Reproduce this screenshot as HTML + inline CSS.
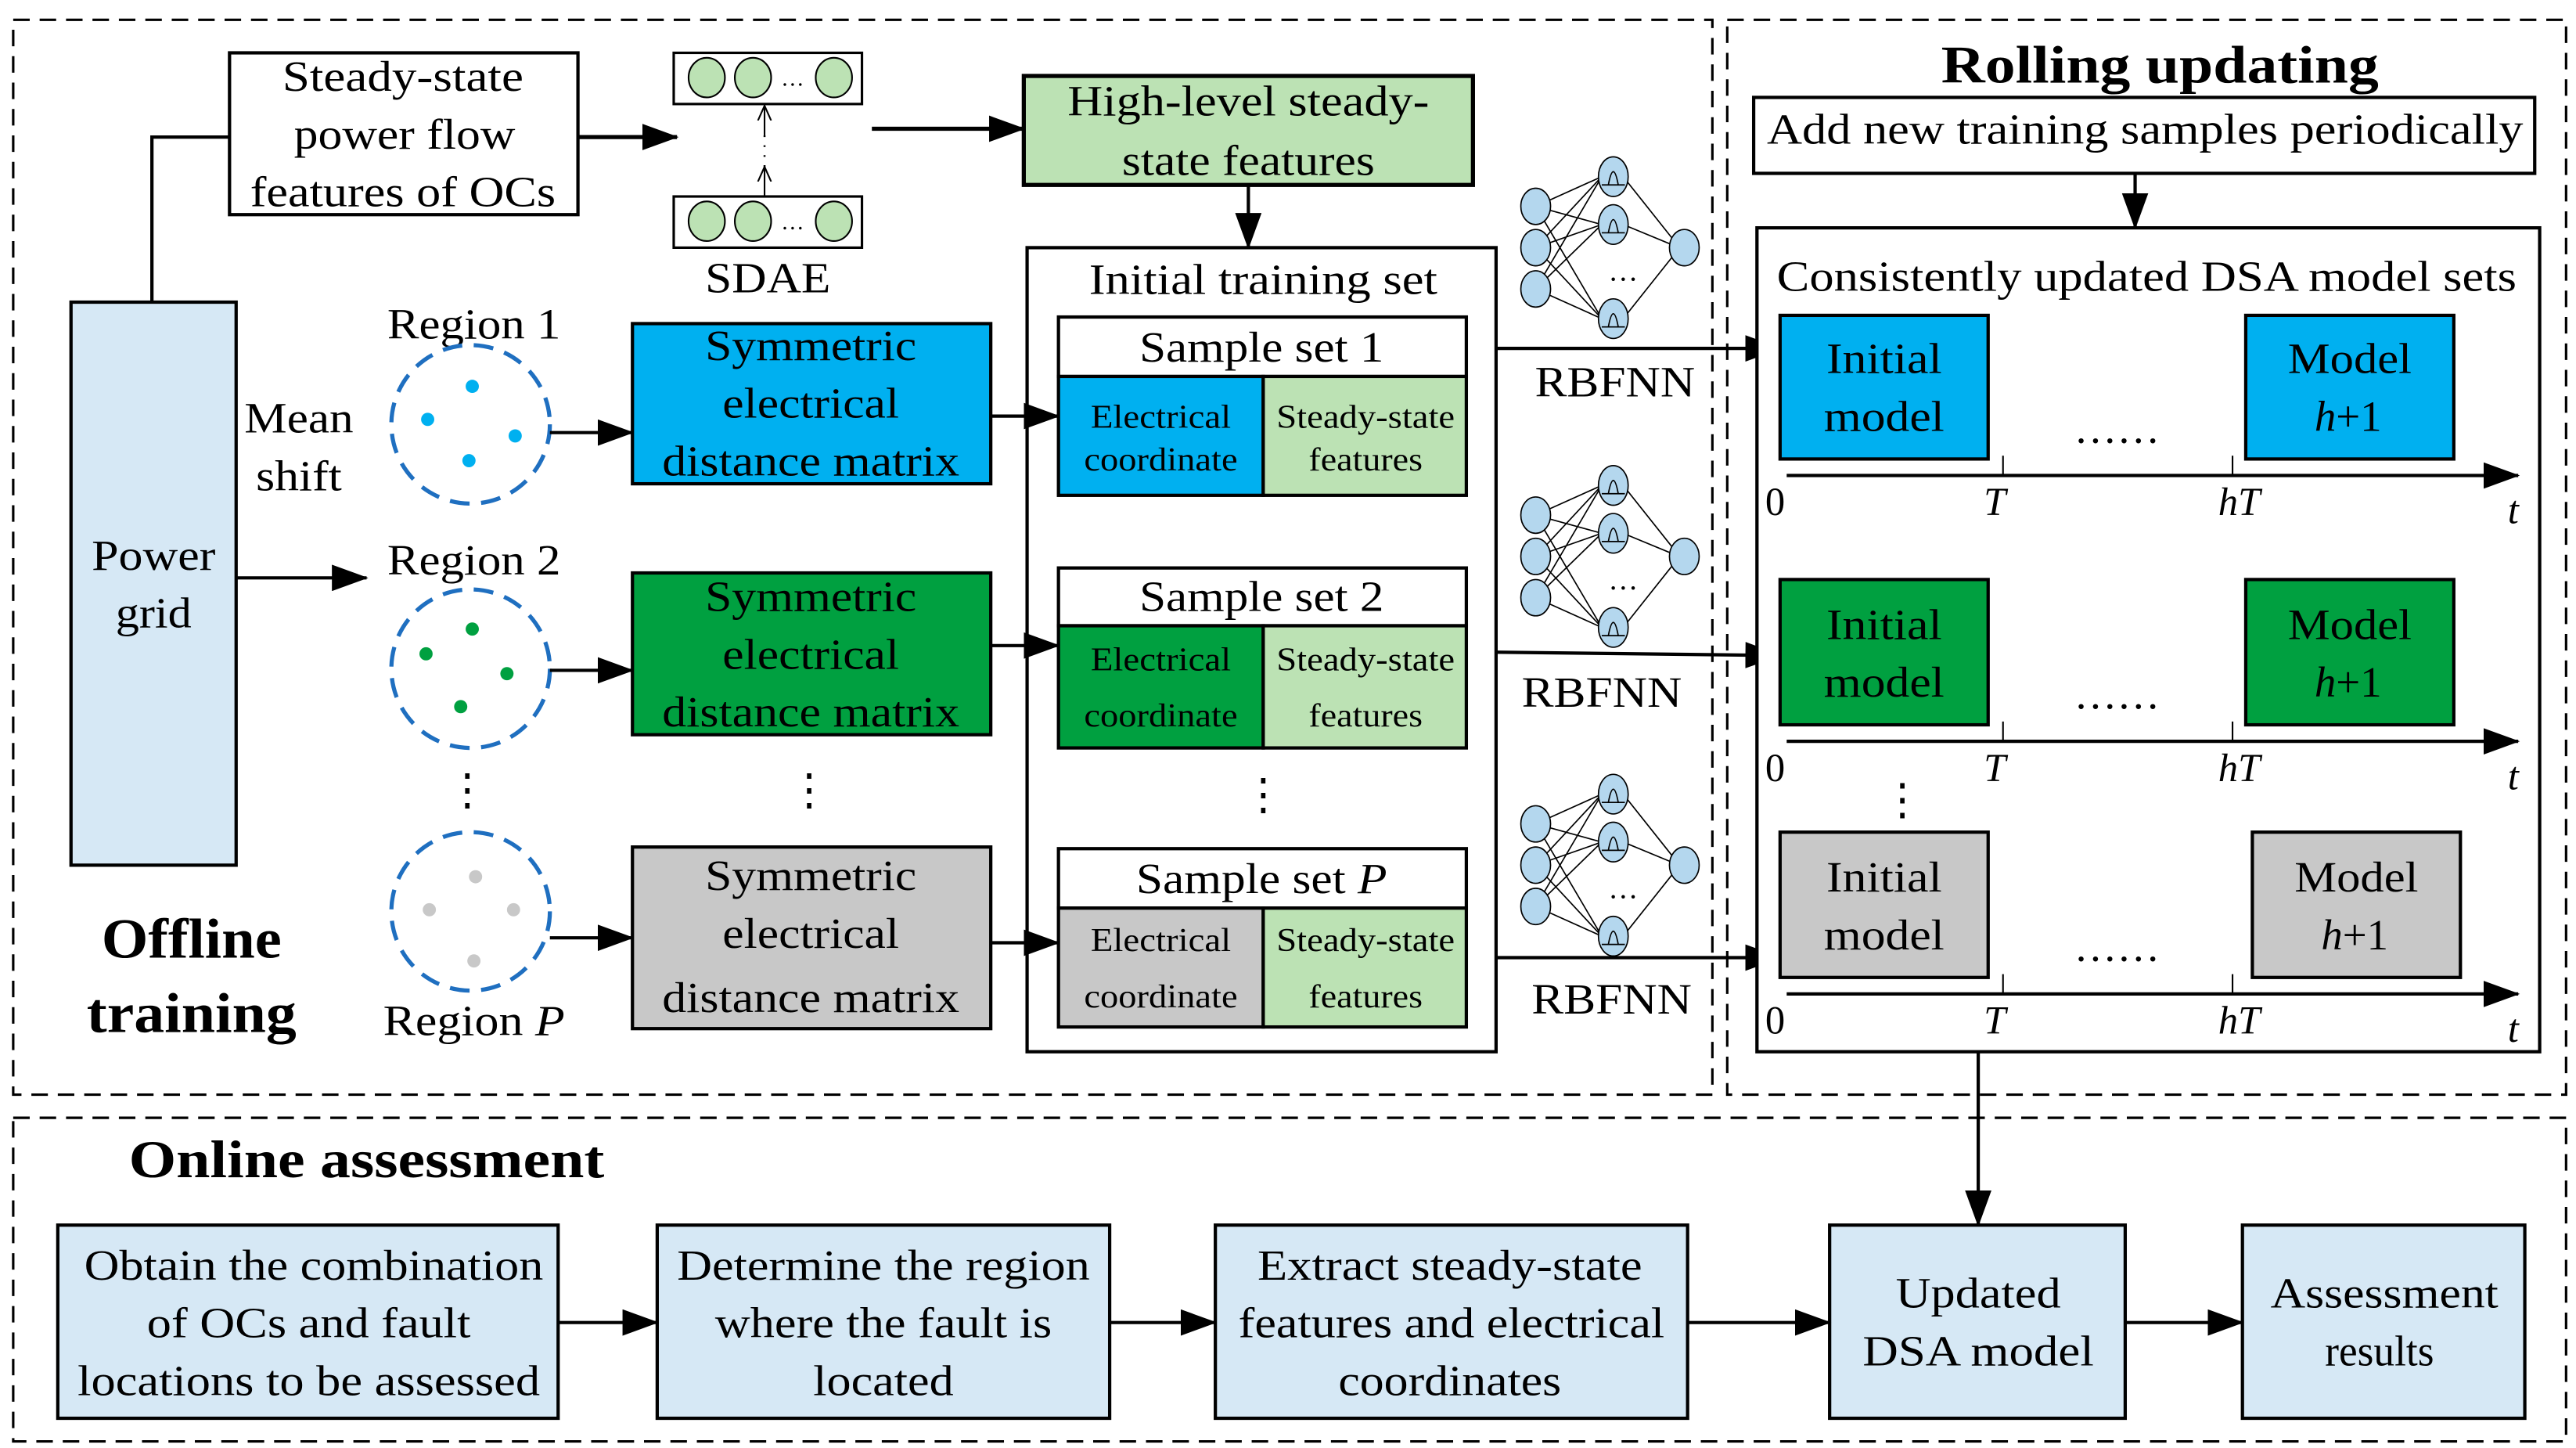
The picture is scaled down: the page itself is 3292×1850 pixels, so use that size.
<!DOCTYPE html>
<html><head><meta charset="utf-8"><style>html,body{margin:0;padding:0;background:#fff}svg{display:block}</style></head>
<body>
<svg width="3292" height="1850" viewBox="0 0 1560 877" preserveAspectRatio="none" xmlns="http://www.w3.org/2000/svg" font-family="'Liberation Serif', serif" font-size="26" text-anchor="middle">
<defs>
<marker id="a" markerUnits="userSpaceOnUse" markerWidth="22" markerHeight="16" refX="21" refY="8" orient="auto"><path d="M0,0 L22,8 L0,16 Z" fill="#000"/></marker>
<marker id="s" markerUnits="userSpaceOnUse" markerWidth="10" markerHeight="10" refX="9" refY="5" orient="auto"><path d="M0,1 L9,5 L0,9" fill="none" stroke="#000" stroke-width="1"/></marker>
<g id="net">
 <g stroke="#000" stroke-width="0.8" fill="none">
  <path d="M930,125 L970,107 M930,125 L970,136 M930,125 L970,193 M930,150 L970,107 M930,150 L970,136 M930,150 L970,193 M930,175 L970,107 M930,175 L970,136 M930,175 L970,193 M983,107 L1014,146 M983,136 L1012,148 M983,193 L1014,154"/>
 </g>
 <g fill="#b4d7ee" stroke="#000" stroke-width="0.8">
  <ellipse cx="930" cy="125" rx="9" ry="11"/><ellipse cx="930" cy="150" rx="9" ry="11"/><ellipse cx="930" cy="175" rx="9" ry="11"/>
  <ellipse cx="977" cy="107" rx="9" ry="12"/><ellipse cx="977" cy="136" rx="9" ry="12"/><ellipse cx="977" cy="193" rx="9" ry="12"/>
  <ellipse cx="1020" cy="150" rx="9" ry="11"/>
 </g>
 <g stroke="#000" stroke-width="0.8" fill="none">
  <path d="M970,112 L984,112 M974,112 Q977,96 980,112 M970,141 L984,141 M974,141 Q977,125 980,141 M970,198 L984,198 M974,198 Q977,182 980,198"/>
 </g>
 <text x="983" y="170" font-size="18">…</text>
</g>
</defs>

<!-- dashed regions -->
<g fill="none" stroke="#000" stroke-width="1.5" stroke-dasharray="10,6">
<rect x="8" y="12" width="1029" height="651"/>
<rect x="1046" y="12" width="508" height="651"/>
<rect x="8" y="677" width="1546" height="196"/>
</g>

<!-- top row -->
<rect x="139" y="32" width="211" height="98" fill="#fff" stroke="#000" stroke-width="2"/>
<text x="244" y="55" textLength="146" lengthAdjust="spacingAndGlyphs">Steady-state</text>
<text x="245" y="90" textLength="134" lengthAdjust="spacingAndGlyphs">power flow</text>
<text x="244" y="125" textLength="185" lengthAdjust="spacingAndGlyphs">features of OCs</text>
<path d="M92,183 L92,83 L139,83" fill="none" stroke="#000" stroke-width="2"/>
<line x1="350" y1="83" x2="410" y2="83" stroke="#000" stroke-width="2.5" marker-end="url(#a)"/>
<rect x="408" y="32" width="114" height="31" fill="#fff" stroke="#000" stroke-width="1.5"/>
<rect x="408" y="119" width="114" height="31" fill="#fff" stroke="#000" stroke-width="1.5"/>
<g fill="#bce2b4" stroke="#000" stroke-width="1">
<ellipse cx="428" cy="47" rx="11" ry="12"/><ellipse cx="456" cy="47" rx="11" ry="12"/><ellipse cx="505" cy="47" rx="11" ry="12"/>
<ellipse cx="428" cy="134" rx="11" ry="12"/><ellipse cx="456" cy="134" rx="11" ry="12"/><ellipse cx="505" cy="134" rx="11" ry="12"/>
</g>
<text x="480" y="52" font-size="14">…</text><text x="480" y="139" font-size="14">…</text>
<line x1="463" y1="119" x2="463" y2="101" stroke="#000" stroke-width="1" marker-end="url(#s)"/>
<line x1="463" y1="101" x2="463" y2="82" stroke="#000" stroke-width="1.2" stroke-dasharray="1,5"/>
<line x1="463" y1="82" x2="463" y2="64" stroke="#000" stroke-width="1" marker-end="url(#s)"/>
<text x="465" y="177" textLength="76" lengthAdjust="spacingAndGlyphs">SDAE</text>
<line x1="528" y1="78" x2="620" y2="78" stroke="#000" stroke-width="2.5" marker-end="url(#a)"/>
<rect x="620" y="46" width="272" height="66" fill="#bce2b4" stroke="#000" stroke-width="2.5"/>
<text x="756" y="70" textLength="219" lengthAdjust="spacingAndGlyphs">High-level steady-</text>
<text x="756" y="106" textLength="153" lengthAdjust="spacingAndGlyphs">state features</text>
<line x1="756" y1="112" x2="756" y2="150" stroke="#000" stroke-width="2" marker-end="url(#a)"/>

<!-- initial training set -->
<rect x="622" y="150" width="284" height="487" fill="#fff" stroke="#000" stroke-width="2"/>
<text x="765" y="178" textLength="211" lengthAdjust="spacingAndGlyphs">Initial training set</text>
<g stroke="#000" stroke-width="2">
<rect x="641" y="192" width="247" height="36" fill="#fff"/>
<rect x="641" y="228" width="124" height="72" fill="#00b0f0"/>
<rect x="765" y="228" width="123" height="72" fill="#bce2b4"/>
<rect x="641" y="344" width="247" height="35" fill="#fff"/>
<rect x="641" y="379" width="124" height="74" fill="#00a040"/>
<rect x="765" y="379" width="123" height="74" fill="#bce2b4"/>
<rect x="641" y="514" width="247" height="36" fill="#fff"/>
<rect x="641" y="550" width="124" height="72" fill="#c8c8c8"/>
<rect x="765" y="550" width="123" height="72" fill="#bce2b4"/>
</g>
<text x="764" y="219" textLength="148" lengthAdjust="spacingAndGlyphs">Sample set 1</text>
<text x="764" y="370" textLength="148" lengthAdjust="spacingAndGlyphs">Sample set 2</text>
<text x="764" y="541" textLength="152" lengthAdjust="spacingAndGlyphs">Sample set <tspan font-style="italic">P</tspan></text>
<g font-size="20">
<text x="703" y="259" textLength="85" lengthAdjust="spacingAndGlyphs">Electrical</text>
<text x="703" y="285" textLength="93" lengthAdjust="spacingAndGlyphs">coordinate</text>
<text x="827" y="259" textLength="108" lengthAdjust="spacingAndGlyphs">Steady-state</text>
<text x="827" y="285" textLength="69" lengthAdjust="spacingAndGlyphs">features</text>
<text x="703" y="406" textLength="85" lengthAdjust="spacingAndGlyphs">Electrical</text>
<text x="703" y="440" textLength="93" lengthAdjust="spacingAndGlyphs">coordinate</text>
<text x="827" y="406" textLength="108" lengthAdjust="spacingAndGlyphs">Steady-state</text>
<text x="827" y="440" textLength="69" lengthAdjust="spacingAndGlyphs">features</text>
<text x="703" y="576" textLength="85" lengthAdjust="spacingAndGlyphs">Electrical</text>
<text x="703" y="610" textLength="93" lengthAdjust="spacingAndGlyphs">coordinate</text>
<text x="827" y="576" textLength="108" lengthAdjust="spacingAndGlyphs">Steady-state</text>
<text x="827" y="610" textLength="69" lengthAdjust="spacingAndGlyphs">features</text>
</g>
<text x="765" y="490">⋮</text>

<!-- power grid & regions -->
<rect x="43" y="183" width="100" height="341" fill="#d6e8f5" stroke="#000" stroke-width="2"/>
<text x="93" y="345" textLength="75" lengthAdjust="spacingAndGlyphs">Power</text>
<text x="93" y="380" textLength="46" lengthAdjust="spacingAndGlyphs">grid</text>
<line x1="143" y1="350" x2="222" y2="350" stroke="#000" stroke-width="2" marker-end="url(#a)"/>
<text x="181" y="262" textLength="66" lengthAdjust="spacingAndGlyphs">Mean</text>
<text x="181" y="297" textLength="52" lengthAdjust="spacingAndGlyphs">shift</text>
<text x="287" y="205" textLength="105" lengthAdjust="spacingAndGlyphs">Region 1</text>
<text x="287" y="348" textLength="105" lengthAdjust="spacingAndGlyphs">Region 2</text>
<text x="287" y="627" textLength="110" lengthAdjust="spacingAndGlyphs">Region <tspan font-style="italic">P</tspan></text>
<g fill="none" stroke="#1f6fc0" stroke-width="2.5" stroke-dasharray="12,7">
<circle cx="285" cy="257" r="48"/><circle cx="285" cy="405" r="48"/><circle cx="285" cy="552" r="48"/>
</g>
<g fill="#00b0f0"><circle cx="286" cy="234" r="4"/><circle cx="259" cy="254" r="4"/><circle cx="312" cy="264" r="4"/><circle cx="284" cy="279" r="4"/></g>
<g fill="#00a040"><circle cx="286" cy="381" r="4"/><circle cx="258" cy="396" r="4"/><circle cx="307" cy="408" r="4"/><circle cx="279" cy="428" r="4"/></g>
<g fill="#c8c8c8"><circle cx="288" cy="531" r="4"/><circle cx="260" cy="551" r="4"/><circle cx="311" cy="551" r="4"/><circle cx="287" cy="582" r="4"/></g>
<text x="283" y="487">⋮</text>
<g stroke="#000" stroke-width="2">
<line x1="333" y1="262" x2="383" y2="262" marker-end="url(#a)"/>
<line x1="333" y1="406" x2="383" y2="406" marker-end="url(#a)"/>
<line x1="333" y1="568" x2="383" y2="568" marker-end="url(#a)"/>
</g>
<g stroke="#000" stroke-width="2">
<rect x="383" y="196" width="217" height="97" fill="#00b0f0"/>
<rect x="383" y="347" width="217" height="98" fill="#00a040"/>
<rect x="383" y="513" width="217" height="110" fill="#c8c8c8"/>
</g>
<text x="491" y="218" textLength="128" lengthAdjust="spacingAndGlyphs">Symmetric</text>
<text x="491" y="253" textLength="107" lengthAdjust="spacingAndGlyphs">electrical</text>
<text x="491" y="288" textLength="180" lengthAdjust="spacingAndGlyphs">distance matrix</text>
<text x="491" y="370" textLength="128" lengthAdjust="spacingAndGlyphs">Symmetric</text>
<text x="491" y="405" textLength="107" lengthAdjust="spacingAndGlyphs">electrical</text>
<text x="491" y="440" textLength="180" lengthAdjust="spacingAndGlyphs">distance matrix</text>
<text x="491" y="539" textLength="128" lengthAdjust="spacingAndGlyphs">Symmetric</text>
<text x="491" y="574" textLength="107" lengthAdjust="spacingAndGlyphs">electrical</text>
<text x="491" y="613" textLength="180" lengthAdjust="spacingAndGlyphs">distance matrix</text>
<text x="490" y="487">⋮</text>
<g stroke="#000" stroke-width="2">
<line x1="600" y1="252" x2="641" y2="252" marker-end="url(#a)"/>
<line x1="600" y1="391" x2="641" y2="391" marker-end="url(#a)"/>
<line x1="600" y1="571" x2="641" y2="571" marker-end="url(#a)"/>
</g>
<text x="116" y="580" font-weight="bold" font-size="34" textLength="109" lengthAdjust="spacingAndGlyphs">Offline</text>
<text x="116" y="625" font-weight="bold" font-size="34" textLength="127" lengthAdjust="spacingAndGlyphs">training</text>

<!-- RBFNN -->
<use href="#net"/>
<use href="#net" transform="translate(0,187)"/>
<use href="#net" transform="translate(0,374)"/>
<text x="978" y="240" textLength="97" lengthAdjust="spacingAndGlyphs">RBFNN</text>
<text x="970" y="428" textLength="97" lengthAdjust="spacingAndGlyphs">RBFNN</text>
<text x="976" y="614" textLength="97" lengthAdjust="spacingAndGlyphs">RBFNN</text>
<g stroke="#000" stroke-width="2">
<line x1="906" y1="211" x2="1078" y2="211" marker-end="url(#a)"/>
<line x1="906" y1="395" x2="1078" y2="397" marker-end="url(#a)"/>
<line x1="906" y1="580" x2="1078" y2="580" marker-end="url(#a)"/>
</g>

<!-- rolling updating -->
<text x="1308" y="50" font-weight="bold" font-size="32" textLength="265" lengthAdjust="spacingAndGlyphs">Rolling updating</text>
<rect x="1062" y="59" width="473" height="46" fill="#fff" stroke="#000" stroke-width="2"/>
<text x="1299" y="87" textLength="458" lengthAdjust="spacingAndGlyphs">Add new training samples periodically</text>
<line x1="1293" y1="105" x2="1293" y2="138" stroke="#000" stroke-width="2" marker-end="url(#a)"/>
<rect x="1064" y="138" width="474" height="499" fill="#fff" stroke="#000" stroke-width="2"/>
<text x="1300" y="176" textLength="448" lengthAdjust="spacingAndGlyphs">Consistently updated DSA model sets</text>
<g stroke="#000" stroke-width="2">
<rect x="1078" y="191" width="126" height="87" fill="#00b0f0"/>
<rect x="1360" y="191" width="126" height="87" fill="#00b0f0"/>
<rect x="1078" y="351" width="126" height="88" fill="#00a040"/>
<rect x="1360" y="351" width="126" height="88" fill="#00a040"/>
<rect x="1078" y="504" width="126" height="88" fill="#c8c8c8"/>
<rect x="1364" y="504" width="126" height="88" fill="#c8c8c8"/>
<line x1="1082" y1="288" x2="1525" y2="288" marker-end="url(#a)"/>
<line x1="1082" y1="449" x2="1525" y2="449" marker-end="url(#a)"/>
<line x1="1082" y1="602" x2="1525" y2="602" marker-end="url(#a)"/>
</g>
<g stroke="#000" stroke-width="1">
<line x1="1213" y1="276" x2="1213" y2="288"/><line x1="1352" y1="276" x2="1352" y2="288"/>
<line x1="1213" y1="437" x2="1213" y2="449"/><line x1="1352" y1="437" x2="1352" y2="449"/>
<line x1="1213" y1="590" x2="1213" y2="602"/><line x1="1352" y1="590" x2="1352" y2="602"/>
</g>
<g>
<text x="1141" y="226" textLength="70" lengthAdjust="spacingAndGlyphs">Initial</text>
<text x="1141" y="261" textLength="73" lengthAdjust="spacingAndGlyphs">model</text>
<text x="1423" y="226" textLength="75" lengthAdjust="spacingAndGlyphs">Model</text>
<text x="1422" y="261"><tspan font-style="italic">h</tspan>+1</text>
<text x="1282" y="268">……</text>
<text x="1141" y="387" textLength="70" lengthAdjust="spacingAndGlyphs">Initial</text>
<text x="1141" y="422" textLength="73" lengthAdjust="spacingAndGlyphs">model</text>
<text x="1423" y="387" textLength="75" lengthAdjust="spacingAndGlyphs">Model</text>
<text x="1422" y="422"><tspan font-style="italic">h</tspan>+1</text>
<text x="1282" y="429">……</text>
<text x="1141" y="540" textLength="70" lengthAdjust="spacingAndGlyphs">Initial</text>
<text x="1141" y="575" textLength="73" lengthAdjust="spacingAndGlyphs">model</text>
<text x="1427" y="540" textLength="75" lengthAdjust="spacingAndGlyphs">Model</text>
<text x="1426" y="575"><tspan font-style="italic">h</tspan>+1</text>
<text x="1282" y="582">……</text>
<text x="1152" y="493">⋮</text>
</g>
<g font-size="24">
<text x="1075" y="312">0</text><text x="1208" y="312" font-style="italic">T</text><text x="1356" y="312" font-style="italic">hT</text><text x="1522" y="317" font-style="italic">t</text>
<text x="1075" y="473">0</text><text x="1208" y="473" font-style="italic">T</text><text x="1356" y="473" font-style="italic">hT</text><text x="1522" y="478" font-style="italic">t</text>
<text x="1075" y="626">0</text><text x="1208" y="626" font-style="italic">T</text><text x="1356" y="626" font-style="italic">hT</text><text x="1522" y="631" font-style="italic">t</text>
</g>
<line x1="1198" y1="637" x2="1198" y2="742" stroke="#000" stroke-width="2" marker-end="url(#a)"/>

<!-- online -->
<text x="222" y="713" font-weight="bold" font-size="32" textLength="288" lengthAdjust="spacingAndGlyphs">Online assessment</text>
<g fill="#d6e8f5" stroke="#000" stroke-width="2">
<rect x="35" y="742" width="303" height="117"/>
<rect x="398" y="742" width="274" height="117"/>
<rect x="736" y="742" width="286" height="117"/>
<rect x="1108" y="742" width="179" height="117"/>
<rect x="1358" y="742" width="171" height="117"/>
</g>
<g stroke="#000" stroke-width="2">
<line x1="338" y1="801" x2="398" y2="801" marker-end="url(#a)"/>
<line x1="672" y1="801" x2="736" y2="801" marker-end="url(#a)"/>
<line x1="1022" y1="801" x2="1108" y2="801" marker-end="url(#a)"/>
<line x1="1287" y1="801" x2="1358" y2="801" marker-end="url(#a)"/>
</g>
<text x="190" y="775" textLength="278" lengthAdjust="spacingAndGlyphs">Obtain the combination</text>
<text x="187" y="810" textLength="196" lengthAdjust="spacingAndGlyphs">of OCs and fault</text>
<text x="187" y="845" textLength="280" lengthAdjust="spacingAndGlyphs">locations to be assessed</text>
<text x="535" y="775" textLength="250" lengthAdjust="spacingAndGlyphs">Determine the region</text>
<text x="535" y="810" textLength="204" lengthAdjust="spacingAndGlyphs">where the fault is</text>
<text x="535" y="845" textLength="85" lengthAdjust="spacingAndGlyphs">located</text>
<text x="878" y="775" textLength="233" lengthAdjust="spacingAndGlyphs">Extract steady-state</text>
<text x="879" y="810" textLength="258" lengthAdjust="spacingAndGlyphs">features and electrical</text>
<text x="878" y="845" textLength="135" lengthAdjust="spacingAndGlyphs">coordinates</text>
<text x="1198" y="792" textLength="100" lengthAdjust="spacingAndGlyphs">Updated</text>
<text x="1198" y="827" textLength="140" lengthAdjust="spacingAndGlyphs">DSA model</text>
<text x="1444" y="792" textLength="138" lengthAdjust="spacingAndGlyphs">Assessment</text>
<text x="1441" y="827" textLength="66" lengthAdjust="spacingAndGlyphs">results</text>
</svg>
</body></html>
